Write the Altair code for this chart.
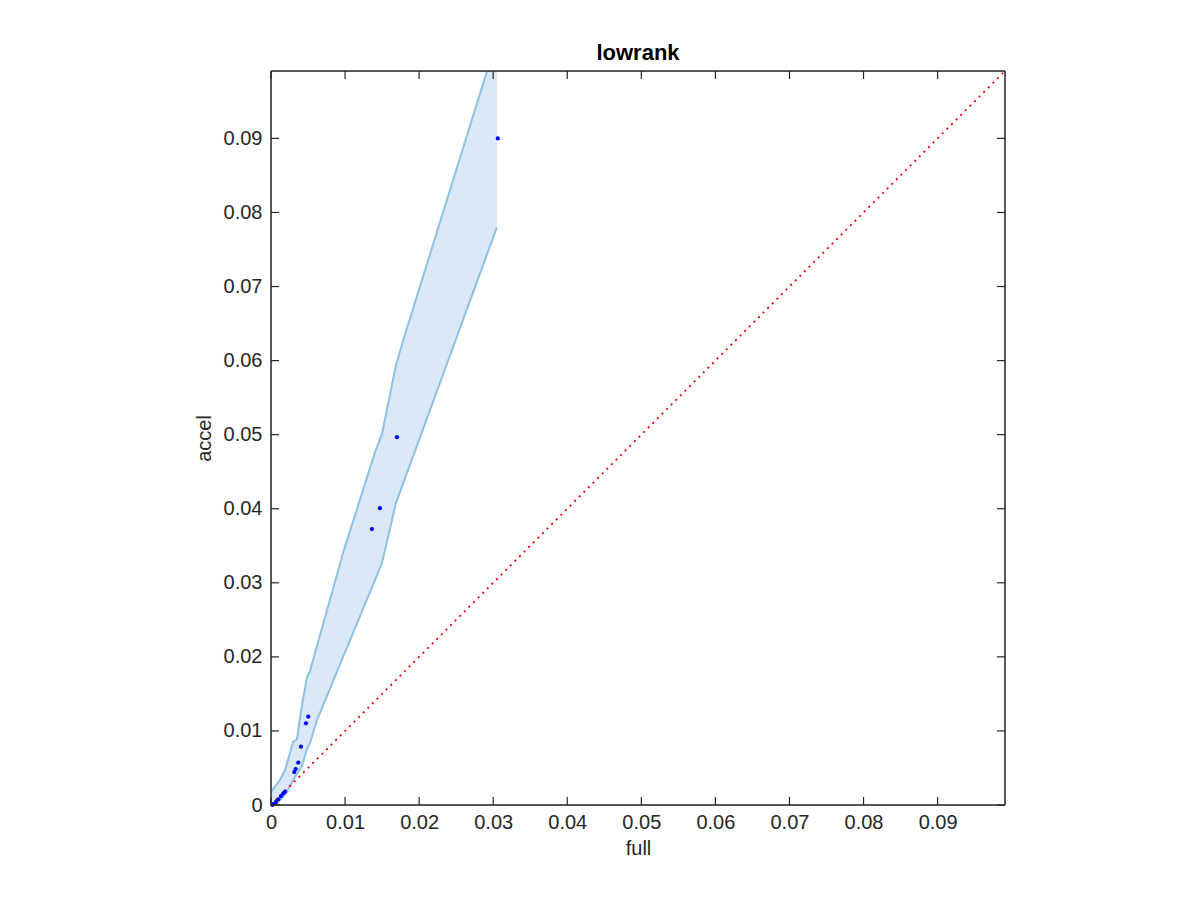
import altair as alt
import pandas as pd

# scatter points (full, accel)
pt_full = [0.03063, 0.01700, 0.01471, 0.01363, 0.00503, 0.00472, 0.00405, 0.00368,
           0.00333, 0.00314, 0.00189, 0.00166, 0.00135, 0.00099, 0.00067, 0.00031, 0.00018]
pt_accel = [0.0900, 0.04966, 0.04008, 0.03725, 0.01192, 0.01103, 0.00787, 0.00571,
            0.00486, 0.00445, 0.00179, 0.00158, 0.00121, 0.00077, 0.00040, 0.00013, 0.0]

# confidence band
band_x = [0.0, 0.00054, 0.00121, 0.00189, 0.00229, 0.00297, 0.00351, 0.00418, 0.00486,
          0.00526, 0.00621, 0.00972, 0.01404, 0.01498, 0.01687, 0.01781, 0.0305]
band_hi = [0.00175, 0.00247, 0.00337, 0.00472, 0.00607, 0.0085, 0.00891, 0.0135, 0.01727,
           0.01808, 0.02146, 0.03401, 0.04764, 0.05007, 0.05938, 0.06262, 0.10337]
band_lo = [0.0, 0.0, 0.00067, 0.00135, 0.00202, 0.00337, 0.00418, 0.00526, 0.00756,
           0.00837, 0.01147, 0.01997, 0.03036, 0.03266, 0.04076, 0.04332, 0.078]

diag = [0.0, 0.0991]
ticks = [0.0, 0.01, 0.02, 0.03, 0.04, 0.05, 0.06, 0.07, 0.08, 0.09]
DOMAIN = [0, 0.0991]

W = H = 734
FONT = "Liberation Sans"
TXT = "#262626"

pts = pd.DataFrame({"full": pt_full, "accel": pt_accel})
band = pd.DataFrame({"x": band_x, "hi": band_hi, "lo": band_lo})
dg = pd.DataFrame({"x": diag, "y": diag})
tk = pd.DataFrame({"t": ticks})
one = pd.DataFrame({"k": [0]})

lab = "datum.value == 0 ? '0' : format(datum.value, '.2f')"

xs = alt.Scale(domain=DOMAIN, nice=False, zero=False)
ys = alt.Scale(domain=DOMAIN, nice=False, zero=False)

common = dict(values=ticks, labelExpr=lab, grid=False, domain=False, tickSize=0,
              labelFontSize=20, titleFontSize=20, titleFontWeight="normal",
              labelColor=TXT, titleColor=TXT, labelFont=FONT, titleFont=FONT,
              labelFlush=False)
xaxis = alt.Axis(title="full", labelPadding=7, titlePadding=6, **common)
yaxis = alt.Axis(title="accel", labelPadding=9, titlePadding=9, **common)

area = alt.Chart(band).mark_area(color="#d9e8f4", opacity=1, clip=True).encode(
    x=alt.X("x:Q", scale=xs, axis=xaxis),
    y=alt.Y("hi:Q", scale=ys, axis=yaxis),
    y2="lo:Q",
)
hi_line = alt.Chart(band).mark_line(color="#8ec1e3", strokeWidth=2, clip=True).encode(
    x="x:Q", y="hi:Q")
lo_line = alt.Chart(band).mark_line(color="#8ec1e3", strokeWidth=2, clip=True).encode(
    x="x:Q", y="lo:Q")
diag_line = alt.Chart(dg).mark_line(color="#ff0000", strokeWidth=1.8,
                                    strokeDash=[2, 4.5], clip=True).encode(
    x="x:Q", y="y:Q")
points = alt.Chart(pts).mark_circle(color="#0000ff", opacity=1, size=18).encode(
    x="full:Q", y="accel:Q")

tick_style = dict(color=TXT, strokeWidth=1.2)
TL = 8
tb = alt.Chart(tk).mark_rule(**tick_style).encode(x="t:Q", y=alt.value(H), y2=alt.value(H - TL))
tt = alt.Chart(tk).mark_rule(**tick_style).encode(x="t:Q", y=alt.value(0), y2=alt.value(TL))
tl = alt.Chart(tk).mark_rule(**tick_style).encode(y="t:Q", x=alt.value(0), x2=alt.value(TL))
tr = alt.Chart(tk).mark_rule(**tick_style).encode(y="t:Q", x=alt.value(W), x2=alt.value(W - TL))

frame_style = dict(color=TXT, strokeWidth=1.5)
fb = alt.Chart(one).mark_rule(**frame_style).encode(x=alt.value(0), x2=alt.value(W), y=alt.value(H))
ft = alt.Chart(one).mark_rule(**frame_style).encode(x=alt.value(0), x2=alt.value(W), y=alt.value(0))
fl = alt.Chart(one).mark_rule(**frame_style).encode(y=alt.value(0), y2=alt.value(H), x=alt.value(0))
fr = alt.Chart(one).mark_rule(**frame_style).encode(y=alt.value(0), y2=alt.value(H), x=alt.value(W))

chart = alt.layer(area, hi_line, lo_line, diag_line, points, tb, tt, tl, tr,
                  fb, ft, fl, fr).properties(
    width=W, height=H,
    title=alt.TitleParams("lowrank", font=FONT, fontSize=22, fontWeight="bold",
                          color="#000000", anchor="middle", offset=5),
    padding={"left": 263, "top": 63, "right": 180, "bottom": 80},
    autosize=alt.AutoSizeParams(type="none"),
).configure_view(strokeWidth=0).configure(background="white")

chart.save("out.html", embed_options={"renderer": "svg", "actions": False})
